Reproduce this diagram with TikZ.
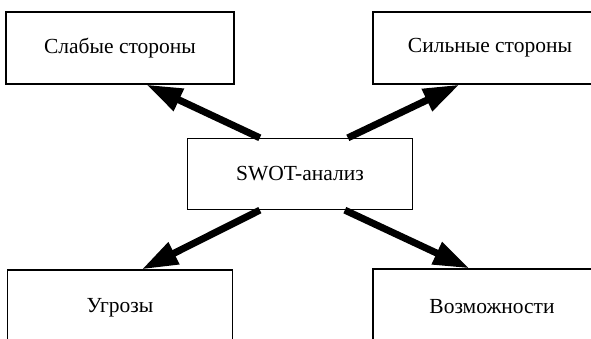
\documentclass[tikz,border=0pt]{standalone}
\usepackage{fontspec}
\setmainfont{Liberation Serif}
\usetikzlibrary{arrows.meta,calc}
\begin{document}
\begin{tikzpicture}[x=1pt,y=-1pt,
  boxnode/.style={draw=black,line width=1.3pt,rectangle,inner sep=0pt,
    font=\fontsize{21.5}{25}\selectfont},
  bigarrow/.style={line width=7pt,-{Triangle[length=36pt,width=23pt]}}]
\useasboundingbox (0,0) rectangle (591,339);
\clip (0,0) rectangle (591,339);
\fill[white] (0,0) rectangle (591,339);
\node[boxnode,minimum width=228pt,minimum height=72pt] (A) at (120,48) {Слабые стороны};
\node[boxnode,minimum width=234pt,minimum height=72pt] (B) at (490,48) {Сильные стороны};
\node[boxnode,minimum width=225pt,minimum height=71pt] (C) at (300,174) {SWOT-анализ};
\node[boxnode,minimum width=225pt,minimum height=76pt] (D) at (120,308) {Угрозы};
\node[boxnode,minimum width=238pt,minimum height=76pt] (E) at (492,307) {Возможности};
\coordinate (c1) at ($(C.north west)+(73,0)$);
\coordinate (c2) at ($(C.north west)+(161,0)$);
\coordinate (c3) at ($(C.south west)+(73,0)$);
\coordinate (c4) at ($(C.south west)+(158,0)$);
\coordinate (a1) at ($(A.south west)+(141,0)$);
\coordinate (b1) at ($(B.south west)+(87,0)$);
\coordinate (d1) at ($(D.north west)+(135,0)$);
\coordinate (e1) at ($(E.north west)+(97,0)$);
\draw[bigarrow] (c1) -- (a1);
\draw[bigarrow] (c2) -- (b1);
\draw[bigarrow] (c3) -- (d1);
\draw[bigarrow] (c4) -- (e1);
\end{tikzpicture}
\end{document}
